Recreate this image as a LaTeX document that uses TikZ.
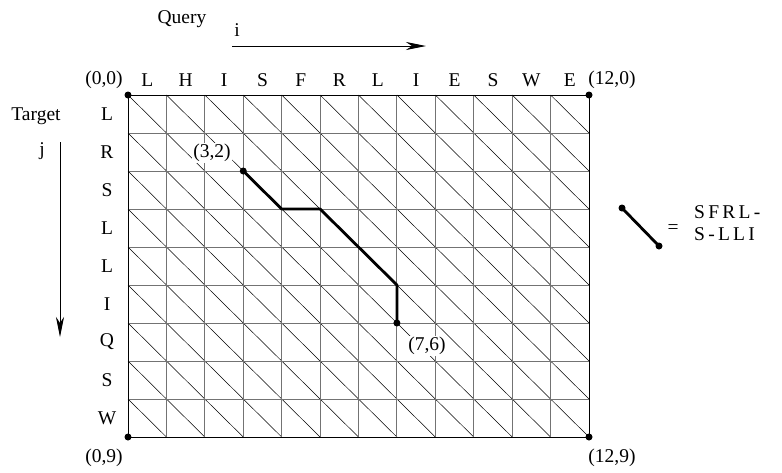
\documentclass[tikz,border=0pt]{standalone}
\usepackage{fontspec}
\setmainfont{Liberation Serif}
\usetikzlibrary{arrows.meta}
\begin{document}
\begin{tikzpicture}[x=1pt,y=-1pt,
  every node/.style={font=\fontsize{19.5}{23}\selectfont, inner sep=1pt},
  gridline/.style={draw=black!55, line width=0.9pt},
  diagline/.style={draw=black, line width=0.5pt},
  frame/.style={draw=black, line width=1pt},
  pathline/.style={draw=black, line width=2.8pt},
  dot/.style={circle, fill=black, inner sep=0pt, minimum size=7pt},
  lbl/.style={fill=white, inner sep=1pt},
  axis/.style={draw=black, line width=0.9pt, -{Stealth[length=20pt,width=8pt,inset=6pt]}}
]
\useasboundingbox (0,0) rectangle (782,472);
\def\gx{128}\def\gy{95}\def\cw{38.417}\def\ch{38}
% diagonals inside each cell
\foreach \i in {0,...,11}
  \foreach \j in {0,...,8}
    \draw[diagline] ({\gx+\i*\cw},{\gy+\j*\ch}) -- ({\gx+(\i+1)*\cw},{\gy+(\j+1)*\ch});
% grid lines
\foreach \i in {1,...,11}
  \draw[gridline] ({\gx+\i*\cw},\gy) -- ({\gx+\i*\cw},{\gy+9*\ch});
\foreach \j in {1,...,8}
  \draw[gridline] (\gx,{\gy+\j*\ch}) -- ({\gx+12*\cw},{\gy+\j*\ch});
% corners
\coordinate (c00) at (\gx,\gy);
\coordinate (c120) at ({\gx+12*\cw},\gy);
\coordinate (c09) at (\gx,{\gy+9*\ch});
\coordinate (c129) at ({\gx+12*\cw},{\gy+9*\ch});
\draw[frame] (c00) -- (c120) -- (c129) -- (c09) -- cycle;
\node[dot] at (c00) {};
\node[dot] at (c120) {};
\node[dot] at (c09) {};
\node[dot] at (c129) {};
\node (l00) at (104,80) {(0,0)};
\node (l120) at (612,80) {(12,0)};
\node (l09) at (104,458) {(0,9)};
\node (l129) at (612,458) {(12,9)};
% query sequence
\foreach \c [count=\k from 0] in {L,H,I,S,F,R,L,I,E,S,W,E}
  \node (q\k) at ({\gx+(\k+0.5)*\cw},80) {\c};
% target sequence
\foreach \c [count=\k from 0] in {L,R,S,L,L,I,Q,S,W}
  \node (t\k) at (107,{\gy+(\k+0.5)*\ch}) {\c};
% axes
\node (query) at (182,19) {Query};
\node (ilab) at (237,30) {i};
\coordinate (ia) at (232,46);
\coordinate (ib) at (426,46);
\draw[axis] (ia) -- (ib);
\node (target) at (36,116) {Target};
\node (jlab) at (42,151) {j};
\coordinate (ja) at (60,142);
\coordinate (jb) at (60,337);
\draw[axis] (ja) -- (jb);
% alignment path
\coordinate (p32) at ({\gx+3*\cw},{\gy+2*\ch});
\coordinate (p43) at ({\gx+4*\cw},{\gy+3*\ch});
\coordinate (p53) at ({\gx+5*\cw},{\gy+3*\ch});
\coordinate (p75) at ({\gx+7*\cw},{\gy+5*\ch});
\coordinate (p76) at ({\gx+7*\cw},{\gy+6*\ch});
\node[lbl] (lab32) at (212,153) {(3,2)};
\node[lbl] (lab76) at (427,346) {(7,6)};
\draw[pathline, line join=round] (p32) -- (p43) -- (p53) -- (p75) -- (p76);
\node[dot] at (p32) {};
\node[dot] at (p76) {};
% legend
\coordinate (la) at (622,208);
\coordinate (lb) at (659,246);
\draw[pathline] (la) -- (lb);
\node[dot] at (la) {};
\node[dot] at (lb) {};
\node (eq) at (673,229) {=};
\node[anchor=west] (top) at (693,212) {S\,F\,R\,L\,-};
\node[anchor=west] (bot) at (693,234) {S\,-\,L\,L\,I};
\end{tikzpicture}
\end{document}
